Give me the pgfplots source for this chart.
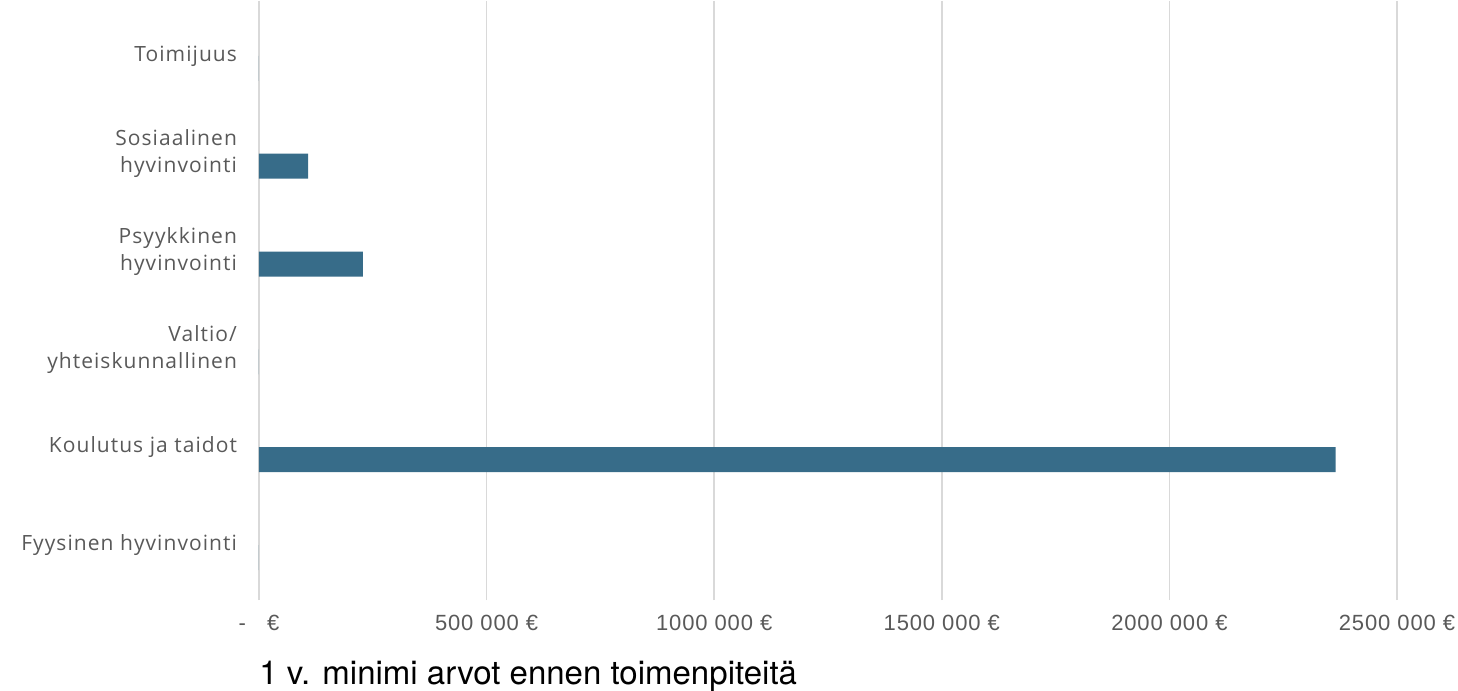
\documentclass[border=0pt]{standalone}
\usepackage{fontspec}
\setmainfont{Open Sans}
\newfontfamily\catfont{Open Sans}[LetterSpace=5]
\newfontfamily\tickfont{Liberation Sans}[LetterSpace=4]
\newfontfamily\titlefont{TeX Gyre Heros}
\usepackage{pgfplots}
\pgfplotsset{compat=1.18}
\definecolor{barblue}{HTML}{376C89}
\definecolor{gridgray}{HTML}{D9D9D9}
\definecolor{labgray}{HTML}{595959}

\begin{document}
\begin{tikzpicture}
\path[use as bounding box] (-129.5pt,-48.5pt) rectangle (599.5pt,297pt);
\begin{axis}[
    scale only axis,
    width=569pt, height=293.5pt,
    xbar, bar width=12.5pt,
    xmin=0, xmax=2500000,
    ymin=-0.5, ymax=5.5,
    axis line style={draw=none},
    xtick={0,500000,1000000,1500000,2000000,2500000},
    xticklabels={-\ \ \ €, 500 000 €, 1000 000 €, 1500 000 €, 2000 000 €, 2500 000 €},
    scaled x ticks=false,
    xmajorgrids,
    grid style={gridgray, line width=0.8pt},
    tick align=outside,
    major tick length=3pt,
    xtick style={gridgray, line width=0.8pt},
    ytick={0,1,2,3,4,5},
    yticklabels={Fyysinen hyvinvointi, Koulutus ja taidot, Valtio/\\yhteiskunnallinen, Psyykkinen\\hyvinvointi, Sosiaalinen\\hyvinvointi~, Toimijuus},
    ytick style={draw=none},
    yticklabel style={align=right, font=\catfont\fontsize{10.5}{13.5}\selectfont, text=labgray, xshift=-4.5pt},
    xticklabel style={font=\tickfont\fontsize{11}{12}\selectfont, text=labgray, yshift=-4pt},
    clip=false,
]
\addplot[fill=barblue, draw=none, bar shift=-6.25pt] coordinates {
    (0,0) (2365000,1) (0,2) (228000,3) (108000,4) (0,5)
};
\node[anchor=base west, inner sep=0pt, font=\titlefont\fontsize{16.5}{18}\selectfont] at (rel axis cs:0,0) [yshift=-45pt] {1 v. minimi arvot ennen toimenpiteitä};
\end{axis}
\end{tikzpicture}
\end{document}
